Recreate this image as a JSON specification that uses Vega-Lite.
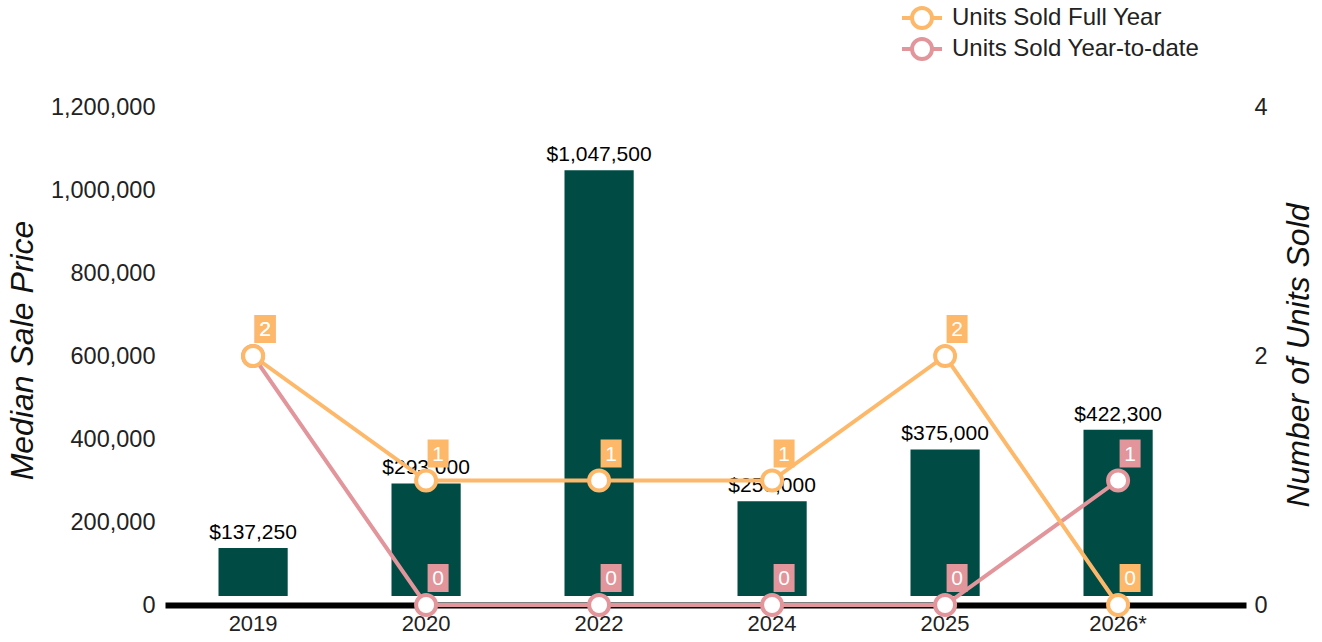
{
  "$schema": "https://vega.github.io/schema/vega-lite/v6.json",
  "width": 1081,
  "height": 498,
  "autosize": "none",
  "padding": {"left": 165, "top": 107, "right": 76, "bottom": 37},
  "background": "white",
  "config": {
    "view": {"stroke": null},
    "font": "Liberation Sans",
    "axis": {"grid": false, "ticks": false, "labelFont": "Liberation Sans", "labelFontSize": 22, "labelColor": "#222222", "titleFont": "Liberation Sans", "titleColor": "#111111"},
    "legend": {
      "orient": "none",
      "legendX": 745,
      "legendY": -101,
      "padding": 0,
      "symbolType": "M-2,0L-1,0M1,0L2,0M1,0A1,1,0,1,1,-1,0A1,1,0,1,1,1,0M1,0A1,1,0,1,0,-1,0A1,1,0,1,0,1,0",
      "symbolSize": 400,
      "symbolStrokeWidth": 4,
      "symbolFillColor": "white",
      "labelFont": "Liberation Sans",
      "labelFontSize": 24,
      "labelColor": "#222222",
      "labelOffset": 18,
      "labelLimit": 0,
      "rowPadding": -5
    }
  },
  "datasets": {
    "prices": [
      {"year": "2019", "price": 137250},
      {"year": "2020", "price": 293000},
      {"year": "2022", "price": 1047500},
      {"year": "2024", "price": 250000},
      {"year": "2025", "price": 375000},
      {"year": "2026*", "price": 422300}
    ],
    "units": [
      {"year": "2019", "series": "Units Sold Year-to-date", "units": 2},
      {"year": "2020", "series": "Units Sold Year-to-date", "units": 0},
      {"year": "2022", "series": "Units Sold Year-to-date", "units": 0},
      {"year": "2024", "series": "Units Sold Year-to-date", "units": 0},
      {"year": "2025", "series": "Units Sold Year-to-date", "units": 0},
      {"year": "2026*", "series": "Units Sold Year-to-date", "units": 1},
      {"year": "2019", "series": "Units Sold Full Year", "units": 2},
      {"year": "2020", "series": "Units Sold Full Year", "units": 1},
      {"year": "2022", "series": "Units Sold Full Year", "units": 1},
      {"year": "2024", "series": "Units Sold Full Year", "units": 1},
      {"year": "2025", "series": "Units Sold Full Year", "units": 2},
      {"year": "2026*", "series": "Units Sold Full Year", "units": 0}
    ]
  },
  "encoding": {
    "x": {
      "field": "year",
      "type": "ordinal",
      "sort": ["2019", "2020", "2022", "2024", "2025", "2026*"],
      "scale": {"paddingInner": 0.6, "paddingOuter": 0.4243, "align": 0.3644},
      "axis": {"title": null, "labelAngle": 0, "domainColor": "#000000", "domainWidth": 6, "labelPadding": 8}
    }
  },
  "layer": [
    {
      "data": {"name": "prices"},
      "encoding": {
        "y": {
          "field": "price",
          "type": "quantitative",
          "scale": {"domain": [0, 1200000], "nice": false},
          "axis": {
            "title": "Median Sale Price",
            "values": [0, 200000, 400000, 600000, 800000, 1000000, 1200000],
            "format": ",.0f",
            "domain": false,
            "labelPadding": 10,
            "labelFontSize": 23.5,
            "titleX": -143,
            "titleY": 243,
            "titleAngle": -90,
            "titleAlign": "center",
            "titleBaseline": "middle",
            "titleFontSize": 32,
            "titleFontStyle": "italic",
            "titleFontWeight": "normal"
          }
        }
      },
      "layer": [
        {
          "mark": {"type": "bar", "color": "#004C45", "y2Offset": -9},
          "encoding": {"y2": {"datum": 0}}
        },
        {
          "mark": {"type": "text", "baseline": "alphabetic", "dy": -9, "fontSize": 21, "color": "#000000"},
          "encoding": {"text": {"field": "price", "type": "quantitative", "format": "$,.0f"}}
        }
      ]
    },
    {
      "data": {"name": "units"},
      "encoding": {
        "y": {
          "field": "units",
          "type": "quantitative",
          "scale": {"domain": [0, 4], "nice": false},
          "axis": {
            "orient": "right",
            "title": "Number of Units Sold",
            "values": [0, 2, 4],
            "format": "d",
            "domain": false,
            "labelPadding": 8,
            "labelFontSize": 23.5,
            "titleX": 52,
            "titleY": 248,
            "titleAngle": -90,
            "titleAlign": "center",
            "titleBaseline": "middle",
            "titleFontSize": 32,
            "titleFontStyle": "italic",
            "titleFontWeight": "normal"
          }
        }
      },
      "layer": [
        {
          "transform": [{"filter": "datum.series == 'Units Sold Year-to-date'"}],
          "mark": {"type": "line", "strokeWidth": 4},
          "encoding": {
            "color": {
              "field": "series",
              "type": "nominal",
              "scale": {"domain": ["Units Sold Full Year", "Units Sold Year-to-date"], "range": ["#FDB86A", "#E2959A"]},
              "legend": {"title": null}
            }
          }
        },
        {
          "transform": [{"filter": "datum.series == 'Units Sold Full Year'"}],
          "mark": {"type": "line", "strokeWidth": 4},
          "encoding": {
            "color": {"field": "series", "type": "nominal", "legend": {"title": null}}
          }
        },
        {
          "mark": {"type": "point", "shape": "circle", "filled": false, "fill": "white", "fillOpacity": 1, "opacity": 1, "size": 400, "strokeWidth": 4},
          "encoding": {
            "color": {"field": "series", "type": "nominal", "legend": {"title": null}}
          }
        },
        {
          "mark": {"type": "point", "shape": "M-0.75,-1H0.75V1H-0.75Z", "size": 784, "filled": true, "opacity": 1, "strokeWidth": 0, "xOffset": 12, "yOffset": -27},
          "encoding": {
            "fill": {
              "field": "series",
              "type": "nominal",
              "scale": {"domain": ["Units Sold Full Year", "Units Sold Year-to-date"], "range": ["#FDB86A", "#E2959A"]},
              "legend": null
            }
          }
        },
        {
          "mark": {"type": "text", "color": "white", "fontSize": 21, "dx": 12, "dy": -26, "baseline": "middle", "align": "center"},
          "encoding": {"text": {"field": "units", "type": "quantitative"}}
        }
      ]
    }
  ],
  "resolve": {"scale": {"y": "independent"}}
}
